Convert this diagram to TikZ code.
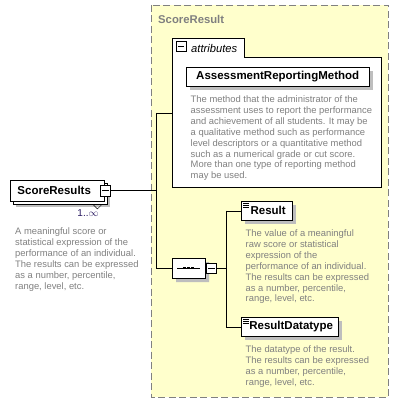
\documentclass[tikz,border=0pt]{standalone}
\usepackage{fontspec}
\setmainfont{Liberation Sans}
\usepackage{tikz}
\usetikzlibrary{calc,positioning,shadows,shapes.misc}
\usepackage{xcolor}
\definecolor{boxyellow}{RGB}{255,255,204}
\definecolor{descgray}{RGB}{128,128,128}
\definecolor{shadegray}{RGB}{190,190,190}
\definecolor{occblue}{RGB}{40,24,96}
\newcommand{\minusicon}[2]{\node[minusbox] (#1) at (#2) {};
  \draw ($(#1.west)+(2,0)$) -- ($(#1.east)+(-2,0)$);}
\newcommand{\docicon}[1]{\foreach \k in {0,2,4} {\draw[line width=0.6pt] ($(#1.north west)+(2,2.5+\k)$) -- ++(6,0);}}
\tikzset{
  elembox/.style={draw, fill=white, font=\fontsize{11.5}{13}\selectfont\bfseries,
    minimum height=19pt, inner xsep=0pt, inner ysep=0pt, anchor=north west,
    drop shadow={shadow xshift=4pt, shadow yshift=-4pt, fill=shadegray, draw=none, opacity=1}},
  multibox/.style={draw, fill=white, font=\fontsize{11.5}{13}\selectfont\bfseries,
    minimum height=21pt, inner xsep=0pt, inner ysep=0pt, anchor=north west,
    drop shadow={shadow xshift=6pt, shadow yshift=-6pt, fill=shadegray, draw=none, opacity=1},
    copy shadow={shadow xshift=3pt, shadow yshift=-3pt}},
  desctext/.style={text=descgray, font=\fontsize{9.4}{10.9}\selectfont, align=left,
    anchor=north west, inner sep=0pt},
  minusbox/.style={draw, fill=white, minimum size=10pt, inner sep=0pt},
  seqbox/.style={draw, fill=white, chamfered rectangle, chamfered rectangle xsep=4pt,
    chamfered rectangle ysep=4pt, minimum width=33pt, minimum height=20pt, inner sep=0pt,
    anchor=west,
    drop shadow={shadow xshift=4pt, shadow yshift=-4pt, fill=shadegray, draw=none, opacity=1}}
}

\begin{document}
\begin{tikzpicture}[x=1pt,y=-1pt]
  \useasboundingbox (0,0) rectangle (405,404);

  % complex type frame
  \draw[descgray, dash pattern=on 7pt off 3.5pt, fill=boxyellow] (151,5) rectangle (388,397);
  \node[anchor=west, text=descgray, font=\fontsize{11.3}{13}\selectfont\bfseries, inner sep=0pt]
    (tname) at (158,19) {ScoreResult};

  % attributes group
  \draw[fill=white] (172,187) -- (172,38) -- (244,38) -- (244,57) -- (381,57) -- (381,187) -- cycle;
  \coordinate (attr) at (172,113);
  \minusicon{am}{181,46}
  \node[anchor=west, font=\fontsize{11.2}{13}\selectfont\itshape, inner sep=0pt]
    (aname) at (191,48) {attributes};
  \node[elembox, minimum width=183pt] (arm) at (186,67) {AssessmentReportingMethod};
  \node[desctext] (armd) at (190.5,95.5) {The method that the administrator of the\\
    assessment uses to report the performance\\
    and achievement of all students. It may be\\
    a qualitative method such as performance\\
    level descriptors or a quantitative method\\
    such as a numerical grade or cut score.\\
    More than one type of reporting method\\
    may be used.};

  % root element
  \node[multibox, minimum width=94pt] (sr) at (10,180) {\hspace*{-6pt}ScoreResults};
  \minusicon{srm}{$(sr.east)+(1,0)$}
  \draw ($(sr.south east)+(-11,3.5)$) -- ++(4,4) -- ++(4,-4);
  \node[text=occblue, font=\fontsize{10}{12}\selectfont, inner sep=0pt] (occ) at (88,213) {1..$\infty$};
  \node[desctext] (srd) at (15,227.5) {A meaningful score or\\
    statistical expression of the\\
    performance of an individual.\\
    The results can be expressed\\
    as a number, percentile,\\
    range, level, etc.};

  % sequence
  \node[seqbox] (seq) at (172,268) {};
  \draw ($(seq.west)+(5,0)$) -- ($(seq.east)+(-5,0)$);
  \foreach \d in {-4,0,4} {\fill ($(seq.center)+(\d-1.3,-1.3)$) rectangle ++(2.6,2.6);}
  \minusicon{sqm}{$(seq.east)+(6,0)$}

  % child elements
  \node[elembox, minimum width=51pt] (res) at (241,201) {\hspace*{3pt}Result};
  \docicon{res}
  \node[desctext] (resd) at (245.5,229.5) {The value of a meaningful\\
    raw score or statistical\\
    expression of the\\
    performance of an individual.\\
    The results can be expressed\\
    as a number, percentile,\\
    range, level, etc.};
  \node[elembox, minimum width=97pt] (rdt) at (241,317) {\hspace*{3pt}ResultDatatype};
  \docicon{rdt}
  \node[desctext] (rdtd) at (245.5,345.5) {The datatype of the result.\\
    The results can be expressed\\
    as a number, percentile,\\
    range, level, etc.};

  % connectors
  \coordinate (j1) at (156,0);
  \coordinate (j2) at (226,0);
  \draw (srm.east) -- (srm.east -| j1);
  \draw (attr -| j1) -- (seq.west -| j1);
  \draw (attr -| j1) -- (attr);
  \draw (seq.west -| j1) -- (seq.west);
  \draw (sqm.east) -- (sqm.east -| j2);
  \draw (res.west -| j2) -- (rdt.west -| j2);
  \draw (res.west -| j2) -- (res.west);
  \draw (rdt.west -| j2) -- (rdt.west);
\end{tikzpicture}
\end{document}
